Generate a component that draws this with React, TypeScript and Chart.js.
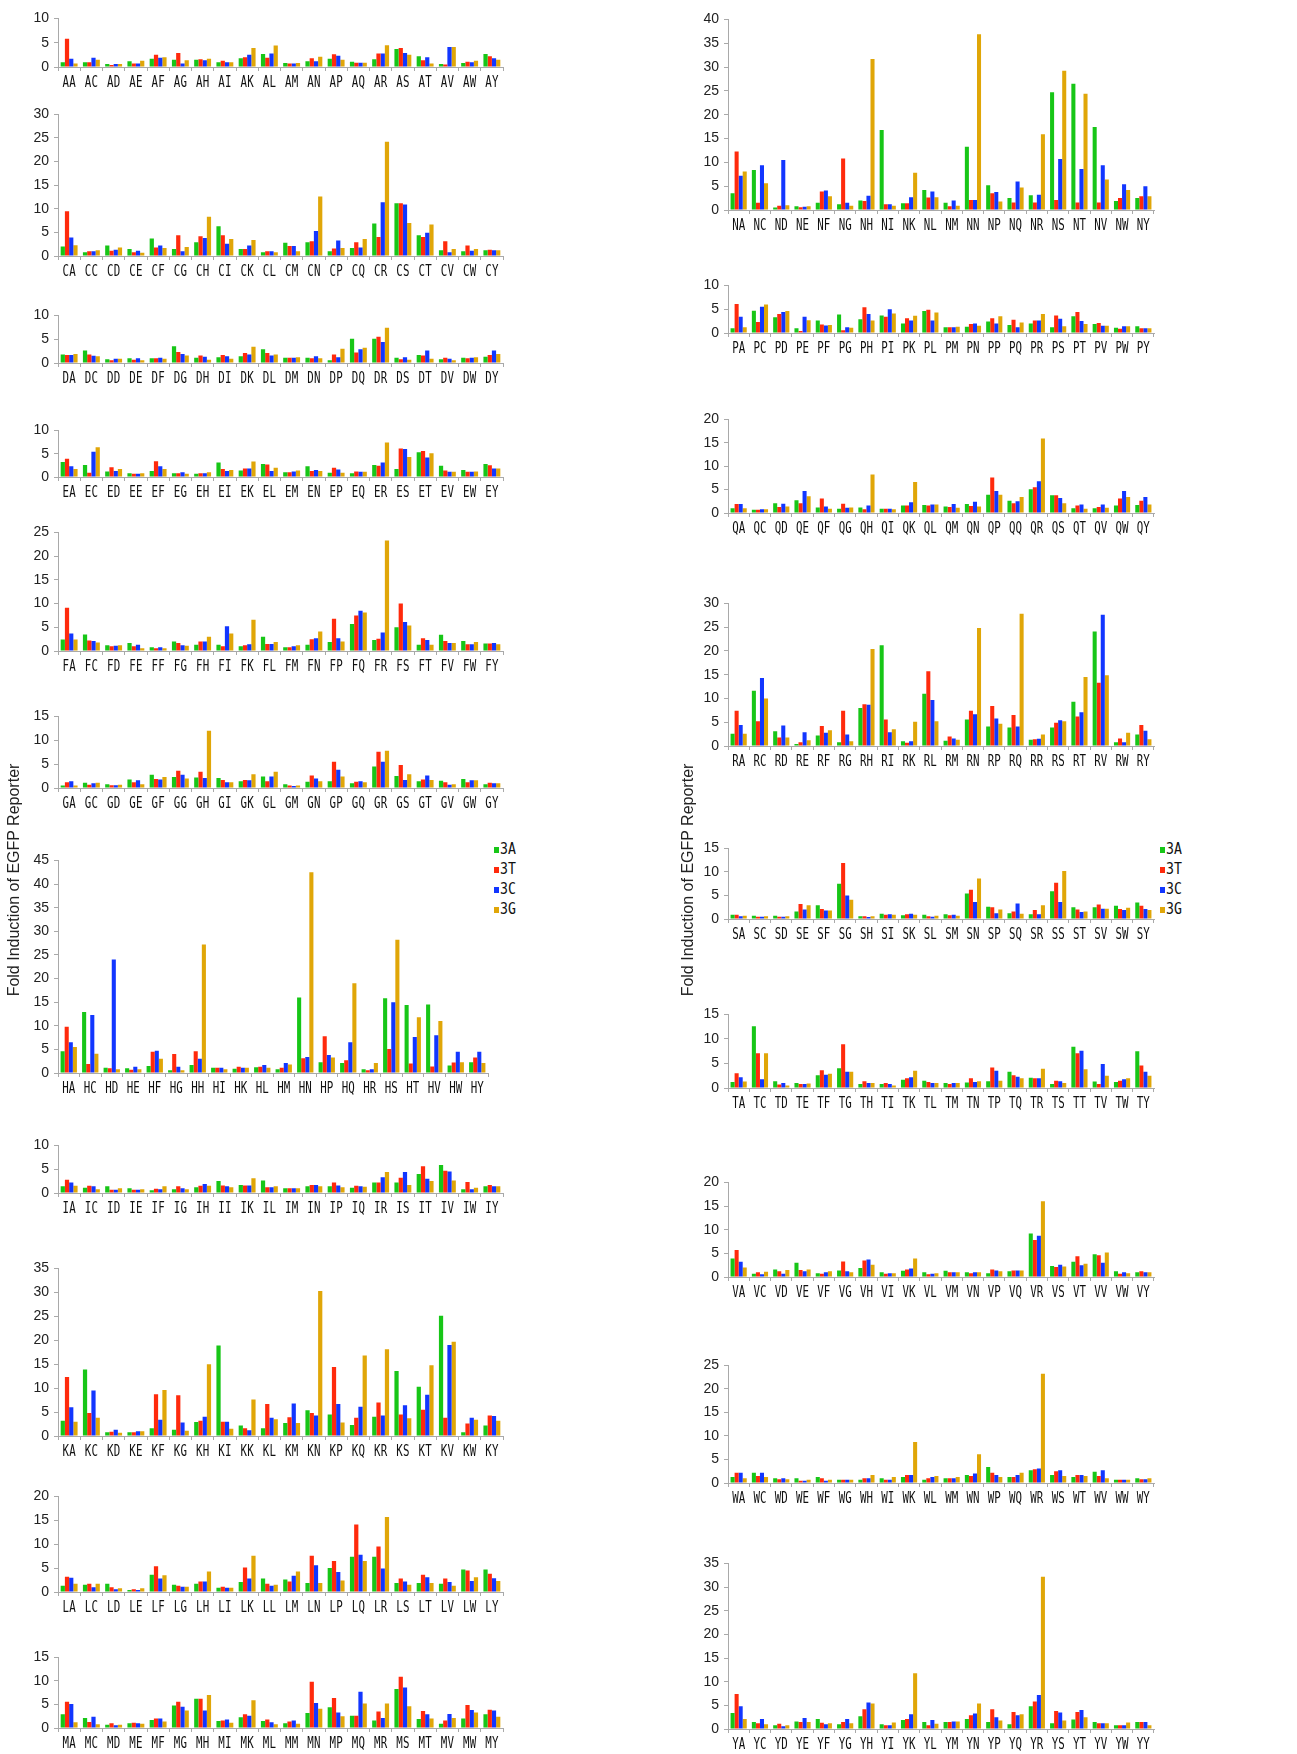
import React, { useEffect, useRef } from 'react';
import { Chart, registerables } from 'chart.js';

Chart.register(...registerables);

// ---------- categories / series ----------
const SUFFIX = ['A', 'C', 'D', 'E', 'F', 'G', 'H', 'I', 'K', 'L', 'M', 'N', 'P', 'Q', 'R', 'S', 'T', 'V', 'W', 'Y'];
const SERIES_NAMES = ['3A', '3T', '3C', '3G'];

// ---------- values (fold induction) ----------
const A_3A = [1.0, 1.0, 0.6, 1.2, 1.7, 1.5, 1.5, 1.0, 1.8, 2.7, 0.8, 1.2, 1.7, 1.1, 1.6, 3.7, 2.2, 0.6, 0.8, 2.7];
const A_3T = [5.8, 1.0, 0.4, 0.7, 2.5, 2.9, 1.6, 1.3, 2.0, 1.9, 0.7, 1.8, 2.6, 0.9, 2.8, 3.9, 1.4, 0.5, 1.1, 2.2];
const A_3C = [1.7, 1.9, 0.6, 0.7, 1.9, 0.7, 1.4, 1.0, 2.5, 2.8, 0.7, 1.2, 2.3, 0.9, 2.8, 2.9, 2.0, 4.1, 1.0, 1.8];
const A_3G = [0.7, 1.5, 0.6, 1.3, 2.0, 1.4, 1.7, 1.0, 3.9, 4.4, 0.8, 2.1, 1.5, 0.9, 4.5, 2.5, 0.7, 4.1, 1.3, 1.5];

const C_3A = [2.0, 0.8, 2.2, 1.5, 3.7, 1.5, 2.9, 6.3, 1.5, 0.8, 2.8, 2.9, 1.0, 1.7, 6.9, 11.2, 4.4, 1.2, 1.0, 1.2];
const C_3T = [9.5, 1.0, 1.1, 0.8, 1.8, 4.4, 4.2, 4.4, 1.5, 1.0, 2.1, 3.1, 1.6, 2.9, 4.0, 11.2, 4.0, 3.1, 2.2, 1.3];
const C_3C = [3.9, 1.0, 1.3, 1.1, 2.2, 1.0, 3.8, 2.6, 2.2, 1.0, 2.1, 5.3, 3.3, 1.8, 11.4, 10.9, 4.9, 0.8, 1.1, 1.2];
const C_3G = [2.3, 1.2, 1.8, 0.7, 1.7, 1.9, 8.3, 3.6, 3.4, 0.8, 1.0, 12.6, 1.7, 3.6, 24.2, 7.0, 6.7, 1.5, 1.5, 1.2];

const D_3A = [1.8, 2.6, 0.8, 1.0, 1.0, 3.5, 1.1, 1.2, 1.4, 2.9, 1.1, 1.1, 0.6, 5.1, 5.1, 1.1, 1.7, 0.8, 1.1, 1.3];
const D_3T = [1.7, 1.8, 0.6, 0.7, 1.0, 2.3, 1.6, 1.7, 2.1, 2.1, 1.1, 1.0, 1.8, 2.2, 5.5, 0.8, 1.6, 1.1, 1.0, 1.7];
const D_3C = [1.7, 1.5, 0.9, 1.0, 1.1, 1.9, 1.3, 1.4, 1.8, 1.6, 1.1, 1.4, 1.2, 2.9, 4.4, 1.2, 2.6, 0.9, 1.1, 2.6];
const D_3G = [1.9, 1.4, 0.9, 0.6, 0.9, 1.6, 0.7, 0.9, 3.4, 1.8, 1.2, 1.0, 3.0, 3.2, 7.4, 0.7, 0.9, 0.6, 1.2, 1.9];

const E_3A = [3.2, 2.6, 1.2, 0.8, 1.3, 0.8, 0.7, 3.1, 1.4, 2.8, 1.0, 2.3, 0.9, 0.8, 2.6, 1.7, 5.3, 2.4, 1.5, 2.8];
const E_3T = [3.9, 0.9, 2.1, 0.7, 3.4, 0.8, 0.8, 1.7, 1.8, 2.7, 1.0, 1.3, 2.0, 1.2, 2.4, 6.1, 5.6, 1.4, 1.1, 2.5];
const E_3C = [2.3, 5.4, 1.3, 0.7, 2.3, 1.0, 0.8, 1.3, 1.8, 1.3, 1.2, 1.5, 1.6, 1.1, 3.1, 6.0, 4.2, 1.1, 1.1, 1.8];
const E_3G = [1.7, 6.4, 1.7, 0.8, 1.7, 0.7, 1.0, 1.5, 3.3, 2.0, 1.4, 1.3, 0.9, 1.1, 7.4, 4.3, 5.1, 1.1, 1.2, 1.8];

const F_3A = [2.4, 3.5, 1.2, 1.7, 0.8, 2.0, 1.3, 1.3, 1.0, 3.0, 0.8, 1.3, 1.9, 5.7, 2.3, 5.0, 1.3, 3.4, 2.1, 1.6];
const F_3T = [9.1, 2.2, 1.0, 1.0, 0.6, 1.7, 2.0, 1.0, 1.2, 1.5, 0.8, 2.5, 6.8, 7.5, 2.6, 10.0, 2.7, 2.1, 1.4, 1.6];
const F_3C = [3.7, 2.1, 1.1, 1.3, 0.8, 1.2, 2.0, 5.2, 1.4, 1.5, 1.0, 2.7, 2.7, 8.5, 3.9, 6.1, 2.3, 1.7, 1.4, 1.7];
const F_3G = [2.4, 1.8, 1.2, 0.6, 0.6, 1.1, 3.0, 3.7, 6.6, 1.9, 1.2, 4.1, 2.0, 8.1, 23.3, 5.4, 1.3, 1.7, 1.9, 1.4];

const G_3A = [0.5, 1.1, 0.8, 1.8, 2.8, 2.3, 2.2, 2.1, 1.4, 2.4, 0.8, 1.3, 1.4, 1.0, 4.5, 2.5, 1.4, 1.5, 1.9, 0.8];
const G_3T = [1.2, 0.7, 0.6, 1.2, 1.9, 3.6, 3.4, 1.7, 1.7, 1.4, 0.5, 2.6, 5.5, 1.3, 7.6, 4.8, 1.8, 1.2, 1.2, 1.1];
const G_3C = [1.4, 1.0, 0.6, 1.6, 1.8, 2.8, 2.1, 1.2, 1.6, 2.4, 0.4, 2.0, 3.8, 1.4, 5.5, 1.7, 2.6, 0.7, 1.6, 1.0];
const G_3G = [0.5, 1.1, 0.7, 0.8, 2.3, 2.0, 12.0, 1.2, 2.9, 3.4, 0.5, 1.4, 2.4, 1.2, 7.8, 2.9, 1.7, 0.8, 1.6, 1.0];

const H_3A = [4.6, 12.9, 1.1, 1.0, 1.5, 0.6, 1.7, 1.1, 0.9, 1.2, 0.8, 16.0, 2.3, 2.1, 0.8, 15.8, 14.4, 14.5, 1.6, 2.3];
const H_3T = [9.8, 1.9, 1.0, 0.7, 4.5, 4.0, 4.6, 1.1, 1.3, 1.3, 1.1, 3.1, 7.8, 2.7, 0.6, 5.1, 2.0, 1.4, 2.2, 3.3];
const H_3C = [6.5, 12.3, 24.0, 1.3, 4.7, 1.3, 3.0, 1.1, 1.1, 1.7, 2.1, 3.4, 3.8, 6.5, 0.8, 15.0, 7.6, 8.0, 4.5, 4.5];
const H_3G = [5.5, 4.1, 0.8, 0.8, 3.0, 0.6, 27.2, 0.8, 1.1, 1.1, 1.8, 42.5, 3.3, 19.0, 2.1, 28.2, 11.8, 11.0, 2.3, 2.1];

const I_3A = [1.4, 1.1, 1.4, 1.0, 0.6, 0.8, 1.2, 2.5, 1.7, 2.6, 1.0, 1.4, 1.4, 1.1, 2.2, 2.2, 4.0, 5.9, 0.8, 1.4];
const I_3T = [2.8, 1.5, 0.7, 0.7, 0.9, 1.4, 1.5, 1.6, 1.6, 1.2, 1.0, 1.7, 2.2, 1.5, 2.2, 3.2, 5.6, 4.7, 2.3, 1.7];
const I_3C = [2.2, 1.4, 0.7, 0.7, 0.8, 1.0, 1.9, 1.4, 1.6, 1.2, 1.0, 1.7, 1.6, 1.4, 3.3, 4.4, 3.0, 4.5, 0.8, 1.4];
const I_3G = [1.5, 0.8, 1.0, 0.8, 1.4, 0.8, 1.5, 1.2, 3.1, 1.4, 1.0, 1.4, 1.2, 1.3, 4.4, 1.7, 2.5, 2.6, 1.1, 1.4];

const K_3A = [3.2, 13.9, 0.8, 0.8, 1.6, 1.3, 2.9, 18.9, 2.2, 1.6, 2.7, 5.4, 4.5, 2.3, 4.0, 13.6, 10.3, 25.1, 0.8, 2.2];
const K_3T = [12.3, 4.8, 0.9, 0.8, 8.7, 8.5, 3.2, 3.0, 1.6, 6.7, 3.9, 4.8, 14.4, 3.8, 7.0, 4.5, 5.5, 3.8, 2.6, 4.3];
const K_3C = [6.0, 9.5, 1.3, 1.0, 3.4, 2.8, 4.0, 3.0, 1.2, 3.8, 6.8, 4.3, 6.7, 6.1, 4.3, 6.4, 8.6, 19.0, 3.8, 4.2];
const K_3G = [3.0, 3.8, 0.7, 1.0, 9.6, 1.1, 15.0, 1.5, 7.6, 3.5, 2.7, 30.3, 2.8, 16.8, 18.1, 3.7, 14.8, 19.7, 3.4, 3.2];

const L_3A = [1.3, 1.5, 1.7, 0.4, 3.6, 1.5, 1.7, 0.9, 2.1, 2.8, 2.6, 1.9, 5.0, 7.4, 7.4, 1.9, 1.9, 1.7, 4.7, 4.7];
const L_3T = [3.2, 1.7, 1.0, 0.6, 5.4, 1.3, 2.2, 1.1, 5.1, 1.7, 2.2, 7.6, 6.5, 14.1, 9.5, 2.8, 3.6, 2.8, 4.5, 3.8];
const L_3C = [3.0, 1.0, 0.6, 0.4, 2.8, 1.1, 2.2, 0.9, 2.8, 1.3, 3.4, 5.6, 4.2, 7.8, 4.9, 2.2, 3.1, 2.1, 2.3, 2.9];
const L_3G = [1.7, 1.7, 0.8, 0.8, 3.5, 1.1, 4.3, 0.9, 7.6, 1.5, 4.3, 1.9, 2.4, 6.5, 15.7, 1.5, 1.9, 1.3, 3.1, 2.3];

const M_3A = [2.9, 2.1, 0.7, 1.0, 1.7, 4.8, 6.2, 1.5, 2.3, 1.5, 1.0, 3.2, 4.4, 2.6, 1.6, 8.3, 1.9, 0.9, 2.0, 2.9];
const M_3T = [5.6, 1.3, 1.0, 1.1, 2.0, 5.6, 6.2, 1.6, 2.9, 1.8, 1.4, 9.8, 6.4, 2.6, 3.5, 10.9, 3.6, 1.6, 4.9, 3.9];
const M_3C = [5.1, 2.4, 0.6, 1.0, 2.0, 4.5, 3.7, 1.8, 2.6, 1.2, 1.6, 5.3, 3.3, 7.7, 2.1, 8.6, 2.9, 3.0, 3.8, 3.7];
const M_3G = [1.2, 0.8, 0.7, 0.9, 1.4, 3.7, 7.0, 1.1, 5.9, 0.8, 0.9, 4.1, 2.5, 5.2, 5.2, 4.6, 2.0, 2.1, 3.3, 2.4];

const N_3A = [3.5, 8.4, 0.5, 0.8, 1.5, 1.2, 2.0, 16.8, 1.4, 4.2, 1.5, 13.3, 5.2, 2.5, 3.1, 24.7, 26.5, 17.4, 1.9, 2.5];
const N_3T = [12.3, 1.5, 0.9, 0.6, 3.9, 10.8, 1.9, 1.2, 1.4, 2.6, 0.8, 2.1, 3.5, 1.6, 1.6, 2.1, 1.6, 1.6, 2.5, 2.9];
const N_3C = [7.2, 9.4, 10.5, 0.7, 4.1, 1.5, 3.0, 1.2, 2.7, 3.9, 2.0, 2.1, 3.8, 6.0, 3.2, 10.7, 8.6, 9.4, 5.4, 5.0];
const N_3G = [8.1, 5.6, 1.0, 0.8, 2.9, 0.9, 31.7, 0.9, 7.8, 2.7, 0.9, 36.9, 1.8, 4.7, 15.9, 29.2, 24.4, 6.4, 4.2, 2.9];

const P_3A = [1.0, 4.7, 3.3, 1.0, 2.6, 3.9, 2.9, 3.7, 2.0, 4.6, 1.2, 1.3, 2.4, 1.7, 2.0, 1.2, 3.5, 1.9, 1.1, 1.4];
const P_3T = [6.1, 2.3, 4.0, 0.4, 1.8, 0.6, 5.4, 3.4, 3.1, 4.9, 1.2, 1.9, 3.1, 2.8, 2.6, 3.7, 4.4, 2.1, 0.9, 1.0];
const P_3C = [3.4, 5.5, 4.4, 3.4, 1.6, 1.2, 4.0, 5.0, 2.6, 2.6, 1.2, 2.0, 2.0, 1.2, 2.6, 3.0, 2.5, 1.5, 1.4, 1.0];
const P_3G = [1.2, 6.0, 4.6, 2.7, 1.7, 1.1, 2.6, 4.1, 3.6, 4.3, 1.3, 1.5, 3.5, 2.2, 4.0, 1.4, 1.9, 1.5, 1.4, 1.0];

const Q_3A = [1.0, 0.7, 2.1, 2.7, 1.2, 0.9, 1.2, 0.9, 1.6, 1.7, 1.4, 1.9, 3.9, 2.6, 5.1, 3.8, 1.0, 1.0, 1.6, 1.7];
const Q_3T = [1.9, 0.7, 1.3, 2.1, 3.1, 2.0, 0.8, 0.9, 1.6, 1.6, 1.3, 1.5, 7.6, 2.1, 5.5, 3.8, 1.6, 1.3, 3.1, 2.6];
const Q_3C = [1.9, 0.8, 2.0, 4.7, 1.4, 1.1, 1.6, 0.9, 2.3, 1.8, 1.9, 2.4, 4.7, 2.5, 6.8, 3.2, 1.8, 1.8, 4.7, 3.4];
const Q_3G = [1.0, 0.8, 1.4, 3.6, 0.9, 1.2, 8.2, 0.8, 6.6, 1.8, 1.1, 1.4, 3.9, 3.4, 15.9, 2.1, 0.9, 1.1, 3.4, 1.8];

const R_3A = [2.6, 11.6, 3.1, 0.4, 2.2, 0.8, 8.0, 21.2, 1.0, 11.0, 1.1, 5.6, 4.1, 3.9, 1.3, 3.9, 9.3, 24.1, 0.8, 2.4];
const R_3T = [7.4, 5.2, 1.8, 0.8, 4.2, 7.4, 8.8, 5.6, 0.7, 15.7, 2.0, 7.4, 8.4, 6.5, 1.4, 4.9, 6.2, 13.3, 1.6, 4.4];
const R_3C = [4.4, 14.3, 4.3, 2.9, 2.8, 2.4, 8.7, 2.9, 1.0, 9.7, 1.6, 6.7, 5.8, 4.1, 1.5, 5.4, 7.1, 27.6, 0.8, 3.2];
const R_3G = [2.6, 10.0, 1.8, 1.2, 3.3, 1.0, 20.4, 3.5, 5.1, 5.2, 1.3, 24.8, 4.7, 27.8, 2.4, 5.2, 14.5, 14.9, 2.8, 1.4];

const S_3A = [0.9, 0.7, 0.7, 1.6, 2.9, 7.5, 0.6, 1.1, 0.8, 0.9, 1.0, 5.4, 2.6, 1.2, 1.0, 5.9, 2.5, 2.5, 2.8, 3.5];
const S_3T = [0.9, 0.5, 0.5, 3.2, 2.1, 11.9, 0.6, 0.9, 1.0, 0.6, 0.8, 6.2, 2.5, 1.6, 1.9, 7.7, 2.0, 3.1, 2.1, 2.8];
const S_3C = [0.6, 0.5, 0.5, 2.0, 1.8, 5.0, 0.4, 1.0, 1.1, 0.5, 0.9, 3.6, 1.2, 3.3, 1.0, 3.6, 1.5, 2.2, 1.9, 2.1];
const S_3G = [0.7, 0.6, 0.6, 2.9, 1.8, 4.1, 0.6, 0.9, 0.9, 0.7, 0.7, 8.6, 2.0, 1.1, 2.9, 10.2, 1.6, 2.2, 2.4, 1.9];

const T_3A = [1.2, 12.6, 1.4, 1.0, 2.6, 4.0, 0.8, 0.8, 1.7, 1.5, 1.0, 1.1, 1.4, 3.3, 2.1, 0.8, 8.4, 1.3, 1.2, 7.5];
const T_3T = [3.0, 7.1, 0.7, 0.8, 3.6, 8.9, 1.4, 1.0, 2.0, 1.2, 0.8, 2.0, 4.2, 2.6, 2.0, 1.5, 7.1, 0.8, 1.5, 4.6];
const T_3C = [2.2, 1.8, 1.0, 0.8, 2.7, 3.3, 1.0, 0.8, 2.2, 1.0, 1.0, 1.2, 3.5, 2.3, 2.0, 1.4, 7.6, 4.9, 1.8, 3.3];
const T_3G = [1.3, 7.1, 0.5, 0.9, 2.9, 3.3, 1.0, 0.5, 3.5, 1.0, 1.0, 1.4, 1.5, 2.0, 3.9, 1.0, 3.8, 2.5, 2.0, 2.5];

const V_3A = [3.9, 0.7, 1.6, 3.0, 0.8, 1.4, 1.9, 1.0, 1.3, 1.0, 1.3, 1.0, 0.8, 1.2, 9.2, 2.3, 3.2, 4.8, 1.2, 1.0];
const V_3T = [5.7, 1.0, 1.2, 1.5, 0.7, 3.3, 3.5, 0.7, 1.6, 0.6, 1.0, 0.8, 1.6, 1.4, 7.8, 2.1, 4.4, 4.6, 0.7, 1.2];
const V_3C = [3.2, 0.6, 0.7, 1.2, 1.0, 1.2, 3.7, 0.8, 1.8, 0.7, 1.0, 1.0, 1.4, 1.4, 8.7, 2.6, 2.5, 3.0, 1.0, 1.0];
const V_3G = [2.0, 1.1, 1.5, 1.6, 1.2, 1.0, 2.6, 0.8, 3.9, 0.8, 1.0, 1.0, 1.2, 1.4, 16.0, 2.2, 2.8, 5.2, 0.8, 1.0];

const W_3A = [1.3, 2.2, 1.0, 1.0, 1.3, 0.7, 0.7, 1.0, 1.3, 0.7, 1.0, 1.7, 3.4, 1.3, 2.7, 1.7, 1.3, 2.4, 0.7, 1.0];
const W_3T = [2.2, 1.5, 0.8, 0.5, 1.0, 0.7, 1.0, 0.7, 1.7, 1.0, 1.0, 1.5, 2.2, 1.3, 2.9, 2.5, 1.7, 1.5, 0.7, 0.8];
const W_3C = [2.2, 2.2, 1.0, 0.5, 0.5, 0.7, 1.0, 0.7, 1.7, 1.3, 1.0, 2.0, 1.7, 1.7, 3.1, 2.7, 1.7, 2.7, 0.7, 0.8];
const W_3G = [1.0, 1.3, 0.8, 0.7, 0.7, 0.7, 1.7, 1.3, 8.7, 1.5, 1.3, 6.1, 1.3, 2.2, 23.2, 1.5, 1.5, 1.0, 0.7, 1.0];

const Y_3A = [3.4, 1.5, 0.8, 1.6, 2.1, 1.0, 2.7, 1.0, 1.9, 1.5, 1.5, 2.1, 1.5, 1.0, 4.8, 1.2, 2.0, 1.5, 0.8, 1.5];
const Y_3T = [7.4, 1.2, 1.1, 1.5, 1.3, 1.5, 4.2, 0.8, 2.1, 0.8, 1.5, 2.9, 4.2, 3.6, 5.8, 3.8, 3.6, 1.2, 0.8, 1.5];
const Y_3C = [4.8, 2.1, 0.6, 2.3, 1.0, 2.1, 5.6, 0.8, 3.1, 1.9, 1.6, 3.3, 2.5, 2.9, 7.2, 3.5, 4.0, 1.2, 0.8, 1.5];
const Y_3G = [2.1, 1.0, 0.8, 1.5, 1.2, 1.2, 5.4, 1.4, 11.8, 1.1, 1.6, 5.4, 1.8, 3.1, 32.2, 1.8, 2.5, 1.2, 1.4, 0.8];

// y-axis maxima (tick labels 0,5,...,max)
const Y_MAX: Record<string, number> = {
  A: 10, C: 30, D: 10, E: 10, F: 25, G: 15, H: 45, I: 10, K: 35, L: 20, M: 15,
  N: 40, P: 10, Q: 20, R: 30, S: 15, T: 15, V: 20, W: 25, Y: 35,
};

const SERIES: Record<string, number[][]> = {
  A: [A_3A, A_3T, A_3C, A_3G], C: [C_3A, C_3T, C_3C, C_3G], D: [D_3A, D_3T, D_3C, D_3G],
  E: [E_3A, E_3T, E_3C, E_3G], F: [F_3A, F_3T, F_3C, F_3G], G: [G_3A, G_3T, G_3C, G_3G],
  H: [H_3A, H_3T, H_3C, H_3G], I: [I_3A, I_3T, I_3C, I_3G], K: [K_3A, K_3T, K_3C, K_3G],
  L: [L_3A, L_3T, L_3C, L_3G], M: [M_3A, M_3T, M_3C, M_3G], N: [N_3A, N_3T, N_3C, N_3G],
  P: [P_3A, P_3T, P_3C, P_3G], Q: [Q_3A, Q_3T, Q_3C, Q_3G], R: [R_3A, R_3T, R_3C, R_3G],
  S: [S_3A, S_3T, S_3C, S_3G], T: [T_3A, T_3T, T_3C, T_3G], V: [V_3A, V_3T, V_3C, V_3G],
  W: [W_3A, W_3T, W_3C, W_3G], Y: [Y_3A, Y_3T, Y_3C, Y_3G],
};

// ---------- layout / style ----------
const COLORS = ['#17c617', '#ff2a0c', '#1236ff', '#e0a608'];
const AXIS = '#a9a9a9';
const COLS = [
  { origin: 0, axisX: 58, right: 503 },
  { origin: 670, axisX: 728, right: 1154 },
];
// [prefix, column, plot top (max tick), plot bottom (zero line), right override]
const LAYOUT: [string, number, number, number, number?][] = [
  ['A', 0, 17, 67], ['C', 0, 113, 256], ['D', 0, 314, 363], ['E', 0, 429, 477],
  ['F', 0, 531, 651], ['G', 0, 715, 788], ['H', 0, 859, 1073, 488], ['I', 0, 1144, 1193],
  ['K', 0, 1267, 1436], ['L', 0, 1495, 1592], ['M', 0, 1656, 1728],
  ['N', 1, 18, 210], ['P', 1, 284, 333], ['Q', 1, 418, 513], ['R', 1, 602, 746],
  ['S', 1, 847, 919], ['T', 1, 1013, 1088], ['V', 1, 1181, 1277], ['W', 1, 1364, 1483],
  ['Y', 1, 1562, 1729],
];
const PAD_T = 12;
const PAD_R = 4;
const X_H = 30;
const LABEL_FONT = '15px "DejaVu Sans Mono", monospace';
const CONDENSE = 0.72;
const LEGEND_CONDENSE = 0.88;

const condensedLabels = {
  id: 'condensedLabels',
  afterDraw(chart: any) {
    const xs = chart.scales.x;
    const ctx = chart.ctx;
    const labels = chart.data.labels as string[];
    ctx.save();
    ctx.font = LABEL_FONT;
    ctx.fillStyle = '#111';
    ctx.textAlign = 'center';
    ctx.textBaseline = 'alphabetic';
    labels.forEach((lab, i) => {
      const x = xs.getPixelForTick(i);
      ctx.save();
      ctx.translate(x, xs.top + 20);
      ctx.scale(CONDENSE, 1);
      ctx.fillText(lab, 0, 0);
      ctx.restore();
    });
    ctx.restore();
  },
};

function Panel({ prefix, col, top, bottom, rightOverride }: { prefix: string; col: number; top: number; bottom: number; rightOverride?: number }) {
  const ref = useRef<HTMLCanvasElement | null>(null);
  const c = COLS[col];
  const right = rightOverride ?? c.right;
  const width = right + PAD_R - c.origin;
  const height = bottom - top + PAD_T + X_H;
  const axisW = c.axisX - c.origin;

  useEffect(() => {
    if (!ref.current) return;
    const labels = SUFFIX.map((s) => prefix + s);
    const chart = new Chart(ref.current, {
      type: 'bar',
      data: {
        labels,
        datasets: SERIES[prefix].map((vals, i) => ({
          label: SERIES_NAMES[i],
          data: vals,
          backgroundColor: COLORS[i],
          borderWidth: 0,
          categoryPercentage: 0.76,
          barPercentage: 1.0,
        })),
      },
      options: {
        animation: false,
        responsive: false,
        maintainAspectRatio: false,
        devicePixelRatio: 1,
        layout: { padding: { top: PAD_T, right: PAD_R, left: 0, bottom: 0 } },
        plugins: { legend: { display: false }, tooltip: { enabled: false }, title: { display: false } },
        scales: {
          x: {
            offset: true,
            grid: { display: true, drawOnChartArea: false, drawTicks: true, tickLength: 4, color: AXIS, offset: true },
            border: { display: true, color: AXIS, width: 1 },
            ticks: { display: false },
            afterFit: (s: any) => { s.height = X_H; },
          },
          y: {
            min: 0,
            max: Y_MAX[prefix],
            ticks: { stepSize: 5, color: '#222', padding: 5, font: { family: '"Liberation Sans", Arial, sans-serif', size: 14 } },
            grid: { display: true, drawOnChartArea: false, drawTicks: true, tickLength: 4, color: AXIS },
            border: { display: true, color: AXIS, width: 1 },
            afterFit: (s: any) => { s.width = axisW; },
          },
        },
      } as any,
      plugins: [condensedLabels],
    });
    return () => chart.destroy();
  }, [prefix, axisW]);

  return (
    <canvas
      ref={ref}
      width={width}
      height={height}
      style={{ position: 'absolute', left: c.origin, top: top - PAD_T, width, height }}
    />
  );
}

function Legend({ x }: { x: number }) {
  const ys = [850, 870, 890, 910];
  return (
    <>
      {SERIES_NAMES.map((n, i) => (
        <React.Fragment key={n}>
          <div style={{ position: 'absolute', left: x, top: ys[i] - 3, width: 5, height: 6, background: COLORS[i] }} />
          <div
            style={{
              position: 'absolute', left: x + 6, top: ys[i] - 10, height: 20, lineHeight: '20px',
              font: LABEL_FONT, color: '#111', transform: `scaleX(${LEGEND_CONDENSE})`, transformOrigin: 'left center',
              whiteSpace: 'nowrap',
            }}
          >
            {n}
          </div>
        </React.Fragment>
      ))}
    </>
  );
}

function YTitle({ cx, cy }: { cx: number; cy: number }) {
  return (
    <div
      style={{
        position: 'absolute', left: cx - 160, top: cy - 10, width: 320, height: 20, lineHeight: '20px',
        textAlign: 'center', font: '16px "Liberation Sans", Arial, sans-serif', color: '#222',
        transform: 'rotate(-90deg)', transformOrigin: 'center center', whiteSpace: 'nowrap',
      }}
    >
      Fold Induction of EGFP Reporter
    </div>
  );
}

export default function App() {
  return (
    <div style={{ position: 'absolute', left: 0, top: 0, width: 1297, height: 1754, background: '#fff', overflow: 'hidden' }}>
      {LAYOUT.map(([p, col, top, bottom, r]) => (
        <Panel key={p} prefix={p} col={col} top={top} bottom={bottom} rightOverride={r} />
      ))}
      <YTitle cx={15} cy={880} />
      <YTitle cx={689} cy={880} />
      <Legend x={494} />
      <Legend x={1160} />
    </div>
  );
}
